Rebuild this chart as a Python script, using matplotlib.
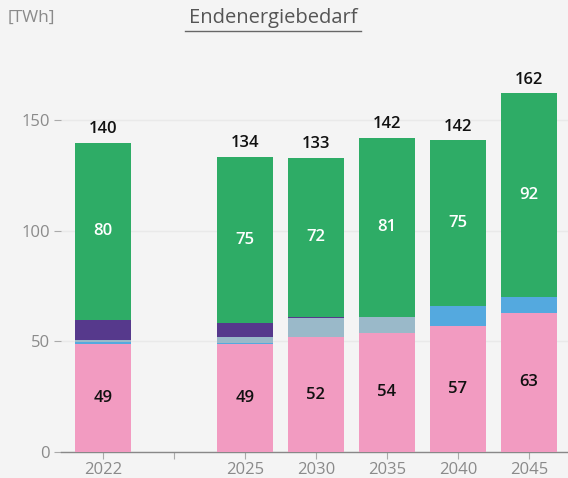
import numpy as np
import matplotlib.pyplot as plt

# Data
years = ['2022', '', '2025', '2030', '2035', '2040', '2045']
pink = [49, 0, 49, 52, 54, 57, 63]
blue = [0.9, 0, 0.5, 0, 0, 9, 7.3]
grayblue = [0.9, 0, 2.7, 8.6, 7.2, 0, 0]
purple = [9, 0, 6.3, 0.4, 0, 0, 0]
green = [80, 0, 75, 72, 81, 75, 92]
totals = [140, None, 134, 133, 142, 142, 162]

colors = ['#f29bc1', '#54a9df', '#9ab9c9', '#56398c', '#2eac66']
bg = '#f4f4f4'

plt.rcParams['font.family'] = ['Open Sans', 'DejaVu Sans']

fig = plt.figure(figsize=(5.68, 4.78), dpi=100, facecolor=bg)
ax = fig.add_axes([61 / 568, 26 / 478, 507 / 568, 387 / 478], facecolor=bg)

x = np.arange(len(years))
w = 0.79
bottom = np.zeros(len(years))
for vals, c in zip([pink, blue, grayblue, purple, green], colors):
    vals = np.array(vals, dtype=float)
    ax.bar(x, vals, w, bottom=bottom, color=c, zorder=3)
    bottom += vals

# Labels
for i in range(len(years)):
    if totals[i] is None:
        continue
    ax.text(x[i], pink[i] / 2, str(pink[i]), ha='center', va='center',
            fontsize=12, color='#111111', fontweight='semibold', zorder=4)
    gbase = bottom[i] - green[i]
    ax.text(x[i], gbase + green[i] / 2, str(green[i]), ha='center', va='center',
            fontsize=12, color='white', fontweight='semibold', zorder=4)
    ax.text(x[i], bottom[i] + 2.5, str(totals[i]), ha='center', va='bottom',
            fontsize=12, color='#111111', fontweight='semibold', zorder=4)

ax.set_xlim(-0.59, 6.55)
ax.set_ylim(0, 175)
ax.set_xticks(x)
ax.set_xticklabels(years)
ax.set_yticks([0, 50, 100, 150])
ax.tick_params(axis='both', colors='#aaaaaa', labelcolor='#8a8a8a', labelsize=12, length=5, width=0.8)
ax.tick_params(axis='y', pad=3)
ax.tick_params(axis='x', pad=2)
ax.grid(axis='y', color='#e9e9e9', linewidth=1, zorder=0)
for s in ['top', 'right', 'left']:
    ax.spines[s].set_visible(False)
ax.spines['bottom'].set_color('#888888')
ax.spines['bottom'].set_linewidth(1)

fig.text(8 / 568, 1 - 18 / 478, '[TWh]', fontsize=12.5, color='#8a8a8a', va='center', ha='left')
fig.text(273 / 568, 1 - 18 / 478, 'Endenergiebedarf', fontsize=14.5, color='#555555',
         va='center', ha='center')
fig.add_artist(plt.Line2D([185 / 568, 361 / 568], [1 - 30.5 / 478, 1 - 30.5 / 478], color='#666666', linewidth=1))

plt.savefig('out.png', dpi=100, facecolor=bg)
